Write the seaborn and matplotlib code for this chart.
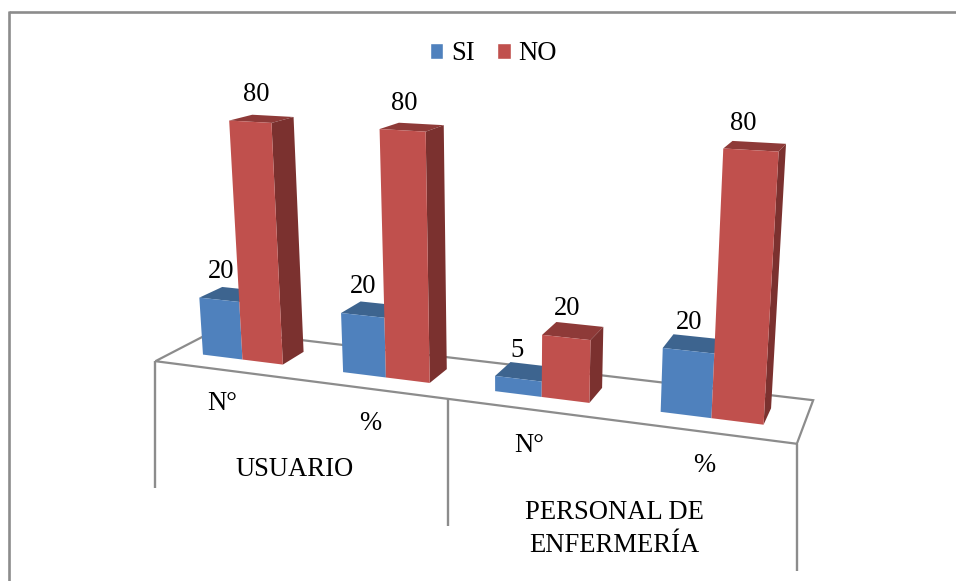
import numpy as np
import pandas as pd
import seaborn as sns
import matplotlib
matplotlib.use("Agg")
import matplotlib.pyplot as plt
from matplotlib import transforms as mtransforms
from matplotlib.patches import Polygon, Patch

# Chart data
groups = ["USUARIO", "USUARIO", "PERSONAL DE\nENFERMERÍA", "PERSONAL DE\nENFERMERÍA"]
measures = ["N°", "%", "N°", "%"]
si_values = [20, 20, 5, 20]
no_values = [80, 80, 20, 80]

FONT = "Liberation Serif"
FONT_SIZE = 19.2
BLUE, BLUE_TOP = "#4F81BD", "#3D648F"
RED, RED_TOP, RED_SIDE = "#C0504D", "#8E3A38", "#7B312F"
GRID = "#8C8C8C"

BAR_WIDTH = 0.29      # one bar, in category units
FLOOR_MARGIN = 0.8    # floor overhang in front of and behind the bars, in bar depths

# Perspective camera: (category position, depth, value) -> canvas pixel
CAMERA = np.array([
    [128.1475, 29.50566, -0.3037457, 242.4631],
    [2.98775, -2.109093, -3.059873, 359.5375],
    [-0.03960552, 0.02981095, -0.0006004551, 1.0],
])


def project(x, depth, value):
    h = CAMERA @ np.array([x, depth, value, 1.0])
    return h[0] / h[2], h[1] / h[2]


class FrontPlane(mtransforms.Transform):
    """Maps (category position, value) on the front plane of the bars to the canvas."""
    input_dims = output_dims = 2
    is_affine = False
    has_inverse = False

    def transform_non_affine(self, values):
        values = np.asarray(values, dtype=float)
        return np.array([project(x, 0.0, v) for x, v in values])


sns.set_theme(style="white")
plt.rcParams["font.family"] = [FONT, "DejaVu Serif"]

keys = [f"{g} {m} {i}" for i, (g, m) in enumerate(zip(groups, measures))]
df = pd.DataFrame({
    "key": keys * 2,
    "serie": ["SI"] * 4 + ["NO"] * 4,
    "valor": si_values + no_values,
})

fig = plt.figure(figsize=(9.56, 5.81), dpi=100, facecolor="white")
ax = fig.add_axes([0, 0, 1, 1])
sns.barplot(data=df, x="key", y="valor", hue="serie", hue_order=["SI", "NO"],
            palette={"SI": BLUE, "NO": RED}, saturation=1, width=2 * BAR_WIDTH,
            gap=0, legend=False, ax=ax)
bars = list(ax.patches)
ax.set_xlim(0, 956)
ax.set_ylim(581, 0)
ax.axis("off")

# Outer chart frame: top and left rules only
ax.plot([8.7, 956], [12.3, 12.3], color=GRID, lw=1.9, solid_capstyle="butt", zorder=1)
ax.plot([8.7, 8.7], [11.0, 581], color=GRID, lw=1.9, solid_capstyle="butt", zorder=1)

# Floor and the category separators hanging from its front edge
front, back = -FLOOR_MARGIN, 1 + FLOOR_MARGIN
floor = [project(-0.5, front, 0), project(3.5, front, 0), project(3.5, back, 0), project(-0.5, back, 0)]
ax.add_patch(Polygon(floor, closed=True, facecolor="white", edgecolor=GRID, lw=1.6, zorder=1))
for x in (-0.5, 1.5, 3.5):
    px, py = project(x, front, 0)
    ax.plot([px, px], [py, py + 127], color=GRID, lw=1.7, solid_capstyle="butt", zorder=1)

# Push the seaborn bars onto the front plane and extrude their top and side faces
front_plane = FrontPlane() + ax.transData
for bar in bars:
    x0, v = bar.get_x(), bar.get_height()
    x1 = x0 + bar.get_width()
    is_no = bar.get_facecolor()[0] > 0.5
    bar.set_transform(front_plane)
    bar.set_linewidth(0)
    bar.set_zorder(4)
    top = [project(x0, 0, v), project(x1, 0, v), project(x1, 1, v), project(x0, 1, v)]
    ax.add_patch(Polygon(top, closed=True, facecolor=RED_TOP if is_no else BLUE_TOP, lw=0, zorder=3))
    if is_no:
        side = [project(x1, 0, 0), project(x1, 0, v), project(x1, 1, v), project(x1, 1, 0)]
        ax.add_patch(Polygon(side, closed=True, facecolor=RED_SIDE, lw=0, zorder=3))

# Value labels above the back edge of each bar
si_nudge = [(-20, -17), (-18, -17), (-16, -14), (-9, -14)]
no_nudge = [(-17, -21), (-17, -20), (-13, -16), (-16, -19)]
for i in range(4):
    for val, cx, nudge in ((si_values[i], i - BAR_WIDTH / 2, si_nudge[i]),
                           (no_values[i], i + BAR_WIDTH / 2, no_nudge[i])):
        px, py = project(cx, 1, val)
        ax.text(px + nudge[0], py + nudge[1], str(val), ha="center", va="center",
                fontsize=FONT_SIZE, color="black", zorder=5)

# Two-level category labels below the floor
measure_pos = [(222, 404), (370, 423), (529, 445), (704, 466)]
for label, (px, py) in zip(measures, measure_pos):
    ax.text(px, py, label, ha="center", va="center", fontsize=FONT_SIZE, color="black")
ax.text(295, 470, groups[0], ha="center", va="center", fontsize=FONT_SIZE, color="black")
ax.text(614, 529, groups[2], ha="center", va="center", fontsize=FONT_SIZE, color="black",
        linespacing=1.42)

handles = [Patch(facecolor=BLUE, label="SI"), Patch(facecolor=RED, label="NO")]
ax.legend(handles=handles, ncol=2, loc="center", bbox_to_anchor=(493.5, 54),
          bbox_transform=ax.transData, frameon=False, fontsize=FONT_SIZE, labelcolor="black",
          handlelength=0.5, handleheight=0.5, handletextpad=0.3, columnspacing=0.85,
          borderpad=0, borderaxespad=0)

fig.savefig("out.png", dpi=100, facecolor="white")
